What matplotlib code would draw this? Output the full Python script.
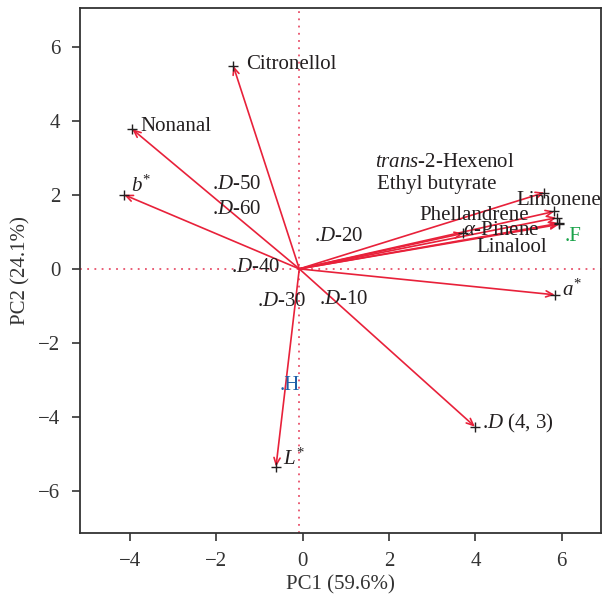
import matplotlib
matplotlib.use("Agg")
import matplotlib.pyplot as plt

plt.rcParams['font.family'] = ['Liberation Serif', 'DejaVu Serif']
plt.rcParams['mathtext.fontset'] = 'custom'
plt.rcParams['mathtext.rm'] = 'Liberation Serif'
plt.rcParams['mathtext.it'] = 'Liberation Serif:italic'
plt.rcParams['axes.unicode_minus'] = True

# Loading vectors (arrow tips)
var_names = ["Citronellol", "Nonanal", "b*", "L*", "D(4,3)", "a*",
             "Limonene", "Phellandrene", "trans-2-Hexenol", "Ethyl butyrate",
             "alpha-Pinene", "Linalool"]
var_x = [-1.61, -3.95, -4.14, -0.62, 3.99, 5.84, 5.60, 5.83, 5.88, 5.94, 3.72, 5.94]
var_y = [5.48, 3.77, 2.00, -5.34, -4.26, -0.70, 2.06, 1.55, 1.38, 1.23, 0.96, 1.20]

# Variable label texts and their positions
var_labels = ["Citronellol", "Nonanal", "$b^{*}$", "$L^{*}$", ".$D$ (4, 3)", "$a^{*}$",
              "Limonene", "Phellandrene", "$trans$-2-Hexenol", "Ethyl butyrate",
              "$\\alpha$-Pinene", "Linalool"]
var_lab_x = [-1.32, -3.77, -3.97, -0.46, 4.16, 6.00, 4.94, 2.70, 1.67, 1.71, 3.72, 4.03]
var_lab_y = [5.52, 3.84, 2.22, -5.14, -4.16, -0.57, 1.84, 1.43, 2.87, 2.29, 1.03, 0.59]

# Sample scores labels
obs_labels = [".$D$-50", ".$D$-60", ".$D$-20", ".$D$-40", ".$D$-30", ".$D$-10", ".H", ".F"]
obs_x = [-2.11, -2.11, 0.25, -1.67, -1.07, 0.38, -0.53, 6.06]
obs_y = [2.27, 1.61, 0.87, 0.04, -0.88, -0.84, -3.16, 0.87]
obs_colors = ["#231f20"] * 6 + ["#1f5fa8", "#1aa34a"]

origin = (-0.08, 0.0)

fig = plt.figure(figsize=(6.03, 5.97), dpi=100)
ax = fig.add_axes([0.1327, 0.1077, 0.8640, 0.8789])

red = "#e8213a"
ax.axhline(origin[1], color="#e8506a", linestyle=(0, (1, 3)), linewidth=1.3, zorder=1)
ax.axvline(origin[0], color="#e8506a", linestyle=(0, (1, 3)), linewidth=1.3, zorder=1)

for x, y in zip(var_x, var_y):
    ax.annotate("", xy=(x, y), xytext=origin,
                arrowprops=dict(arrowstyle="->,head_length=0.5,head_width=0.22",
                                color=red, lw=1.2, shrinkA=0, shrinkB=0))
ax.plot(var_x, var_y, linestyle="none", marker="+", color="#231f20",
        markersize=7.5, markeredgewidth=1.0, zorder=3)

fs = 15
for t, x, y in zip(var_labels, var_lab_x, var_lab_y):
    ax.text(x, y, t, fontsize=fs, ha="left", va="center", color="#231f20", zorder=4)
for t, x, y, c in zip(obs_labels, obs_x, obs_y, obs_colors):
    ax.text(x, y, t, fontsize=fs, ha="left", va="center", color=c, zorder=4)

ax.set_xlim(-5.16, 6.91)
ax.set_ylim(-7.12, 7.04)
ax.set_xticks([-4, -2, 0, 2, 4, 6])
ax.set_yticks([-6, -4, -2, 0, 2, 4, 6])
ax.tick_params(direction="out", length=6, width=1.2, colors="#333333",
               labelsize=fs, pad=8)
for s in ax.spines.values():
    s.set_color("#333333")
    s.set_linewidth(1.3)

ax.set_xlabel("PC1 (59.6%)", fontsize=fs, color="#333333", labelpad=3)
ax.set_ylabel("PC2 (24.1%)", fontsize=fs, color="#333333", labelpad=6)

fig.savefig("out.png", dpi=100)
